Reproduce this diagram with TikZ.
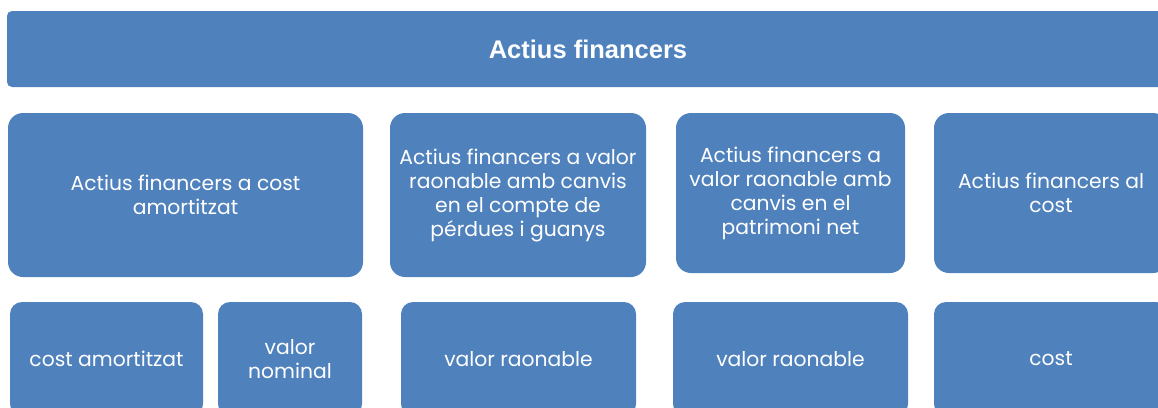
\documentclass[tikz,border=0pt]{standalone}
\usepackage{fontspec}
\setmainfont{Poppins}
\newfontfamily\titlefont{Liberation Sans}
\definecolor{boxblue}{HTML}{4F81BD}
\begin{document}
\begin{tikzpicture}[x=1pt,y=-1pt,
  box/.style={fill=boxblue, draw=none, inner sep=0pt, text=white, align=center,
    font=\fontsize{20.3}{24}\selectfont},
  bigbox/.style={box, rounded corners=15pt},
  smallbox/.style={box, rounded corners=12pt},
  titlebox/.style={box, rounded corners=5pt, font=\titlefont\bfseries\fontsize{25.5}{28}\selectfont}]
\useasboundingbox (0,0) rectangle (1158,407);
\clip (0,0) rectangle (1158,407);
% title
\node[titlebox, minimum width=1162pt, minimum height=76pt] (title) at (588,49) {Actius financers};
% row 2
\node[bigbox, minimum width=355pt, minimum height=164pt] (a) at (185.5,195) {Actius financers a cost\\amortitzat};
\node[bigbox, minimum width=256pt, minimum height=164pt] (b) at (518,195) {Actius financers a valor\\raonable amb canvis\\en el compte de\\pérdues i guanys};
\node[bigbox, minimum width=229pt, minimum height=160pt] (c) at (790.5,193) {Actius financers a\\valor raonable amb\\canvis en el\\patrimoni net};
\node[bigbox, minimum width=234pt, minimum height=160pt] (d) at (1051,193) {Actius financers al\\cost};
% row 3
\node[smallbox, minimum width=193pt, minimum height=114pt] (e) at (106.5,359) {cost amortitzat};
\node[smallbox, minimum width=144pt, minimum height=114pt] (f) at (290,359) {valor\\nominal};
\node[smallbox, minimum width=235pt, minimum height=114pt] (g) at (518.5,359) {valor raonable};
\node[smallbox, minimum width=235pt, minimum height=114pt] (h) at (790.5,359) {valor raonable};
\node[smallbox, minimum width=234pt, minimum height=114pt] (i) at (1051,359) {cost};
\end{tikzpicture}
\end{document}
